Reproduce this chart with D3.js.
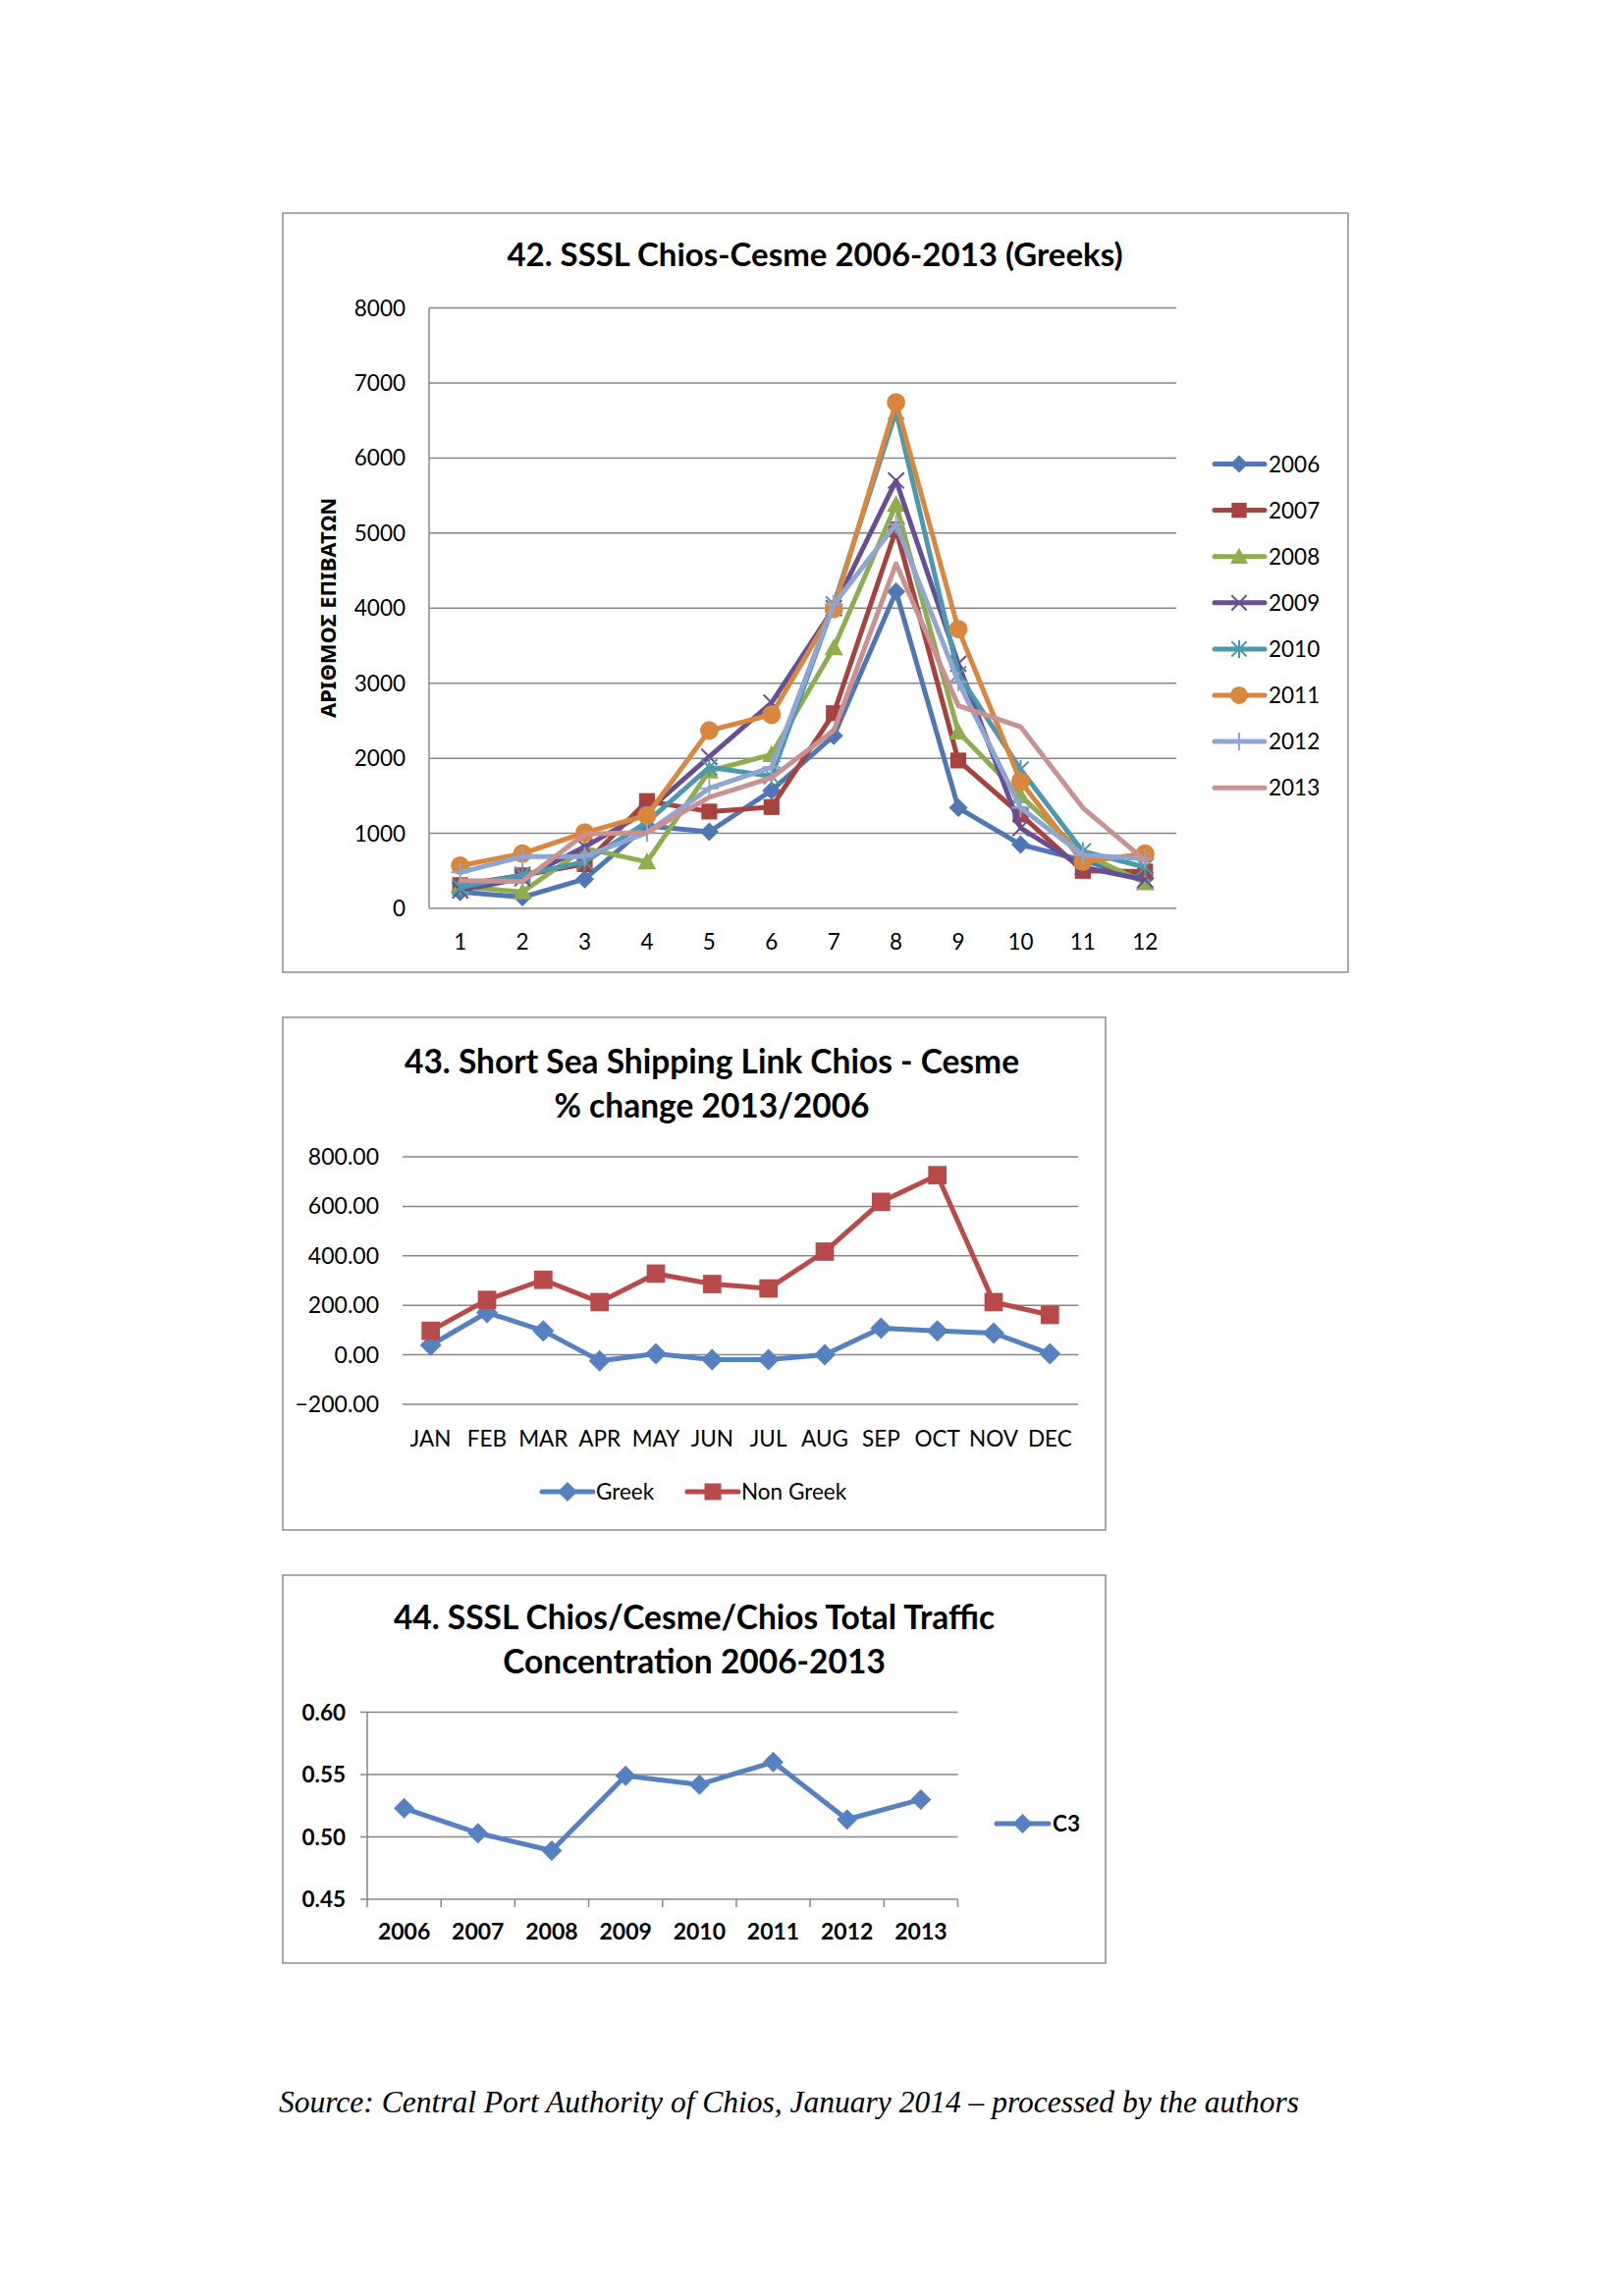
<!DOCTYPE html>
<html>
<head>
<meta charset="utf-8">
<script src="https://cdn.jsdelivr.net/npm/d3@7"></script>
<style>
  body{margin:0;background:#fff;}
  svg{display:block;}
  text{font-family:Lato,"Open Sans",sans-serif;fill:#000;}
</style>
</head>
<body>
<svg id="page" width="1653" height="2338"></svg>
<script>
// chart 42 - greek passengers per month
const months = [1,2,3,4,5,6,7,8,9,10,11,12];
const years = ["2006","2007","2008","2009","2010","2011","2012","2013"];
const pax2006 = [220,150,390,1100,1020,1570,2300,4220,1340,850,640,400];
const pax2007 = [310,440,590,1430,1290,1350,2600,5050,1970,1250,500,490];
const pax2008 = [290,220,800,620,1830,2050,3470,5380,2350,1500,730,340];
const pax2009 = [240,400,820,1290,2020,2740,4000,5700,3260,1070,550,380];
const pax2010 = [280,450,620,1150,1880,1760,4050,6620,3120,1850,760,550];
const pax2011 = [570,730,1010,1240,2370,2580,3990,6740,3720,1690,620,730];
const pax2012 = [480,690,690,1010,1600,1880,4050,5120,3020,1340,710,660];
const pax2013 = [370,360,990,1010,1480,1740,2370,4590,2700,2420,1340,640];
const yearColors = ["#4f77b5","#a8423f","#8fac4f","#664f93","#4c98ae","#d9873d","#8fa5d2","#c99191"];
const yearMarkers = ["diamond","square","triangle","x","star","circle","plus","none"];

// chart 43 - % change 2013/2006
const monthNames = ["JAN","FEB","MAR","APR","MAY","JUN","JUL","AUG","SEP","OCT","NOV","DEC"];
const greekChange = [39,171,97,-24,4,-19,-19,0,108,97,88,4];
const nonGreekChange = [97,222,303,213,328,286,268,417,618,726,213,161];

// chart 44 - concentration C3
const c3Years = ["2006","2007","2008","2009","2010","2011","2012","2013"];
const c3Values = [0.523,0.503,0.489,0.549,0.542,0.560,0.514,0.530];

const svg = d3.select("#page");
svg.append("rect").attr("width",1653).attr("height",2338).attr("fill","#fff");

const gridColor = "#878787";
const boxColor = "#8e8e8e";
const lineW = 5;
const greekColor = "#5581c1";
const nonGreekColor = "#b84b49";

function marker(g, type, x, y, color, s){
  if(type==="diamond"){
    g.append("path").attr("d",`M${x},${y-s}L${x+s},${y}L${x},${y+s}L${x-s},${y}Z`).attr("fill",color);
  } else if(type==="square"){
    g.append("rect").attr("x",x-s*0.85).attr("y",y-s*0.85).attr("width",s*1.7).attr("height",s*1.7).attr("fill",color);
  } else if(type==="triangle"){
    g.append("path").attr("d",`M${x},${y-s}L${x+s},${y+s*0.8}L${x-s},${y+s*0.8}Z`).attr("fill",color);
  } else if(type==="circle"){
    g.append("circle").attr("cx",x).attr("cy",y).attr("r",s).attr("fill",color);
  } else if(type==="x" || type==="star"){
    const d = s*0.85;
    let p = `M${x-d},${y-d}L${x+d},${y+d}M${x-d},${y+d}L${x+d},${y-d}`;
    if(type==="star") p += `M${x},${y-s}L${x},${y+s}`;
    g.append("path").attr("d",p).attr("stroke",color).attr("stroke-width",2).attr("fill","none");
  } else if(type==="plus"){
    g.append("path").attr("d",`M${x-s},${y}L${x+s},${y}M${x},${y-s}L${x},${y+s}`)
      .attr("stroke",color).attr("stroke-width",2).attr("fill","none");
  }
}

// ---------- chart 42 ----------
{
  const g = svg.append("g");
  g.append("rect").attr("x",288).attr("y",217).attr("width",1085).attr("height",773)
    .attr("fill","none").attr("stroke",boxColor).attr("stroke-width",1.5);
  g.append("text").attr("x",830).attr("y",271).attr("text-anchor","middle")
    .style("font-size","33px").style("font-weight","bold")
    .text("42. SSSL Chios-Cesme 2006-2013 (Greeks)");

  const x = d3.scaleBand().domain(months).range([437,1198]);
  const y = d3.scaleLinear().domain([0,8000]).range([925,313.5]);
  const cx = m => x(m)+x.bandwidth()/2;

  const ticks = d3.range(0,8001,1000);
  g.selectAll(".grid").data(ticks).enter().append("line")
    .attr("x1",437).attr("x2",1198).attr("y1",d=>y(d)).attr("y2",d=>y(d))
    .attr("stroke",gridColor).attr("stroke-width",1.5);
  g.append("line").attr("x1",437).attr("x2",437).attr("y1",313.5).attr("y2",925)
    .attr("stroke",gridColor).attr("stroke-width",1.5);
  g.selectAll(".yl").data(ticks).enter().append("text")
    .attr("x",413).attr("y",d=>y(d)+8).attr("text-anchor","end")
    .style("font-size","22.5px").text(d=>d);
  g.selectAll(".xl").data(months).enter().append("text")
    .attr("x",d=>cx(d)).attr("y",967).attr("text-anchor","middle")
    .style("font-size","22.5px").text(d=>d);
  g.append("text").attr("transform","translate(342,619) rotate(-90)").attr("text-anchor","middle")
    .style("font-family","'Noto Sans',sans-serif").style("font-size","22px").style("font-weight","bold")
    .text("ΑΡΙΘΜΟΣ ΕΠΙΒΑΤΩΝ");

  const series = [pax2006,pax2007,pax2008,pax2009,pax2010,pax2011,pax2012,pax2013];
  const line = d3.line().x((d,i)=>cx(months[i])).y(d=>y(d));
  series.forEach((vals,k)=>{
    const sg = g.append("g");
    sg.append("path").datum(vals).attr("d",line).attr("fill","none")
      .attr("stroke",yearColors[k]).attr("stroke-width",lineW).attr("stroke-linejoin","round");
    vals.forEach((v,i)=>marker(sg, yearMarkers[k], cx(months[i]), y(v), yearColors[k], 9.5));
  });

  // legend
  years.forEach((yr,k)=>{
    const ly = 472.5 + k*47.1;
    const lg = g.append("g");
    lg.append("line").attr("x1",1237).attr("x2",1288).attr("y1",ly).attr("y2",ly)
      .attr("stroke",yearColors[k]).attr("stroke-width",lineW).attr("stroke-linecap","round");
    marker(lg, yearMarkers[k], 1262, ly, yearColors[k], 9);
    lg.append("text").attr("x",1292).attr("y",ly+8).style("font-size","22.5px").text(yr);
  });
}

// ---------- chart 43 ----------
{
  const g = svg.append("g");
  g.append("rect").attr("x",288).attr("y",1036).attr("width",838).attr("height",522)
    .attr("fill","none").attr("stroke",boxColor).attr("stroke-width",1.5);
  g.append("text").attr("x",725).attr("y",1093).attr("text-anchor","middle")
    .style("font-size","33.5px").style("font-weight","bold")
    .text("43. Short Sea Shipping Link Chios - Cesme");
  g.append("text").attr("x",725).attr("y",1138).attr("text-anchor","middle")
    .style("font-size","33.5px").style("font-weight","bold")
    .text("% change 2013/2006");

  const x = d3.scaleBand().domain(monthNames).range([410,1098]);
  const y = d3.scaleLinear().domain([-200,800]).range([1430,1178]);
  const cx = m => x(m)+x.bandwidth()/2;
  const ticks = d3.range(-200,801,200);
  g.selectAll(".grid").data(ticks).enter().append("line")
    .attr("x1",410).attr("x2",1098).attr("y1",d=>y(d)).attr("y2",d=>y(d))
    .attr("stroke",gridColor).attr("stroke-width",1.5);
  g.selectAll(".yl").data(ticks).enter().append("text")
    .attr("x",386).attr("y",d=>y(d)+8).attr("text-anchor","end")
    .style("font-size","23px").text(d=>d3.format(".2f")(d));
  g.selectAll(".xl").data(monthNames).enter().append("text")
    .attr("x",d=>cx(d)).attr("y",1473).attr("text-anchor","middle")
    .style("font-size","22.5px").text(d=>d);

  const line = d3.line().x((d,i)=>cx(monthNames[i])).y(d=>y(d));
  [[greekChange,greekColor,"diamond"],[nonGreekChange,nonGreekColor,"square"]].forEach(([vals,col,mk])=>{
    g.append("path").datum(vals).attr("d",line).attr("fill","none")
      .attr("stroke",col).attr("stroke-width",lineW).attr("stroke-linejoin","round");
    vals.forEach((v,i)=>marker(g, mk, cx(monthNames[i]), y(v), col, 11));
  });

  const legend = [["Greek",greekColor,"diamond",552],["Non Greek",nonGreekColor,"square",700]];
  legend.forEach(([name,col,mk,lx])=>{
    g.append("line").attr("x1",lx).attr("x2",lx+52).attr("y1",1519).attr("y2",1519)
      .attr("stroke",col).attr("stroke-width",lineW).attr("stroke-linecap","round");
    marker(g, mk, lx+26, 1519, col, 10);
    g.append("text").attr("x",lx+55).attr("y",1527).style("font-size","22.5px").text(name);
  });
}

// ---------- chart 44 ----------
{
  const g = svg.append("g");
  g.append("rect").attr("x",288).attr("y",1604).attr("width",838).attr("height",395)
    .attr("fill","none").attr("stroke",boxColor).attr("stroke-width",1.5);
  g.append("text").attr("x",707).attr("y",1659).attr("text-anchor","middle")
    .style("font-size","33.5px").style("font-weight","bold")
    .text("44. SSSL Chios/Cesme/Chios Total Traffic");
  g.append("text").attr("x",707).attr("y",1704).attr("text-anchor","middle")
    .style("font-size","33.5px").style("font-weight","bold")
    .text("Concentration 2006-2013");

  const x = d3.scaleBand().domain(c3Years).range([374,975.5]);
  const y = d3.scaleLinear().domain([0.45,0.60]).range([1934,1743.5]);
  const cx = m => x(m)+x.bandwidth()/2;
  const ticks = [0.45,0.50,0.55,0.60];
  g.selectAll(".grid").data(ticks).enter().append("line")
    .attr("x1",367).attr("x2",975.5).attr("y1",d=>y(d)).attr("y2",d=>y(d))
    .attr("stroke",gridColor).attr("stroke-width",1.5);
  g.append("line").attr("x1",374).attr("x2",374).attr("y1",1743.5).attr("y2",1942)
    .attr("stroke",gridColor).attr("stroke-width",1.5);
  const bounds = c3Years.map(d=>x(d)+x.bandwidth());
  g.selectAll(".tk").data(bounds).enter().append("line")
    .attr("x1",d=>d).attr("x2",d=>d).attr("y1",1934).attr("y2",1942)
    .attr("stroke",gridColor).attr("stroke-width",1.5);
  g.selectAll(".yl").data(ticks).enter().append("text")
    .attr("x",352).attr("y",d=>y(d)+8).attr("text-anchor","end")
    .style("font-size","22.5px").style("font-weight","bold").text(d=>d3.format(".2f")(d));
  g.selectAll(".xl").data(c3Years).enter().append("text")
    .attr("x",d=>cx(d)).attr("y",1975).attr("text-anchor","middle")
    .style("font-size","23px").style("font-weight","bold").text(d=>d);

  const line = d3.line().x((d,i)=>cx(c3Years[i])).y(d=>y(d));
  g.append("path").datum(c3Values).attr("d",line).attr("fill","none")
    .attr("stroke",greekColor).attr("stroke-width",lineW).attr("stroke-linejoin","round");
  c3Values.forEach((v,i)=>marker(g,"diamond",cx(c3Years[i]),y(v),greekColor,10.5));

  g.append("line").attr("x1",1015).attr("x2",1068).attr("y1",1857).attr("y2",1857)
    .attr("stroke",greekColor).attr("stroke-width",lineW).attr("stroke-linecap","round");
  marker(g,"diamond",1041.5,1857,greekColor,10);
  g.append("text").attr("x",1072).attr("y",1865).style("font-size","22.5px").style("font-weight","bold").text("C3");
}

svg.append("text").attr("x",284).attr("y",2151)
  .style("font-family","'Liberation Serif','Times New Roman',serif").style("font-style","italic").style("font-size","31.5px")
  .text("Source: Central Port Authority of Chios, January 2014 – processed by the authors");
</script>
</body>
</html>
